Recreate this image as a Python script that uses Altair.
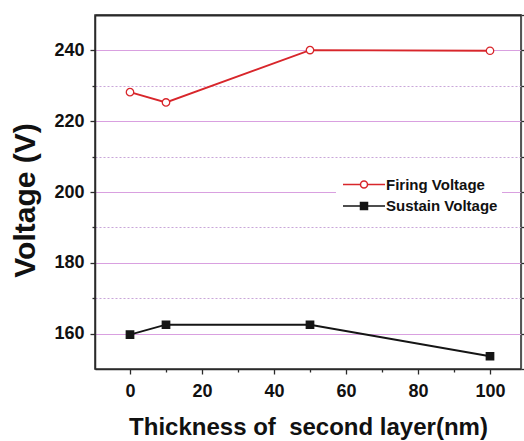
import altair as alt
import pandas as pd

thickness = [0, 10, 50, 100]
firing_voltage = [228.2, 225.3, 240.1, 239.9]
sustain_voltage = [159.7, 162.5, 162.5, 153.6]
series_names = ["Firing Voltage", "Sustain Voltage"]
series_colors = ["#d8262b", "#151515"]
marker_fills = ["white", "#151515"]
marker_shapes = ["circle", "square"]
y_ticks = [160, 170, 180, 190, 200, 210, 220, 230, 240]
y_ticks_right = [150, 160, 170, 180, 190, 200, 210, 220, 230, 240, 250]
x_ticks = [0, 10, 20, 30, 40, 50, 60, 70, 80, 90, 100]
x_domain = [-9.7222, 108.6111]
y_domain = [150, 250]
x_title = "Thickness of\u00a0 second layer(nm)"
y_title = "Voltage (V)"

rows = []
for t, v in zip(thickness, firing_voltage):
    rows.append({"t": t, "v": v, "series": series_names[0]})
for t, v in zip(thickness, sustain_voltage):
    rows.append({"t": t, "v": v, "series": series_names[1]})
df = pd.DataFrame(rows)

FONT = "Liberation Sans"
MAJOR = "datum.value % 20 === 0"
GRID_MAJOR = "#d9a0e0"
GRID_MINOR = "#c9a6d9"
AXIS_COLOR = "#2a2a2a"

x_scale = alt.Scale(domain=x_domain, nice=False, zero=False)
y_scale = alt.Scale(domain=y_domain, nice=False, zero=False)

x_axis = alt.Axis(
    orient="bottom", values=x_ticks, grid=False, title=x_title,
    labelExpr=f"{MAJOR} ? datum.label : ''",
    tickSize={"condition": {"test": MAJOR, "value": 5}, "value": 3},
    tickColor=AXIS_COLOR, tickWidth=1.3, domainColor=AXIS_COLOR, domainWidth=1.5,
    labelFont=FONT, labelFontSize=18, labelFontWeight="bold", labelColor="#111",
    labelPadding=8, titleFont=FONT, titleFontSize=24, titleFontWeight="bold",
    titleColor="#111", titlePadding=15,
)
x_axis_top = alt.Axis(
    orient="top", title=None, labels=False, ticks=False, grid=False,
    domainColor=AXIS_COLOR, domainWidth=2,
)
y_axis = alt.Axis(
    orient="left", values=y_ticks, title=y_title, grid=True,
    labelExpr=f"{MAJOR} ? datum.label : ''",
    tickSize={"condition": {"test": MAJOR, "value": 5}, "value": 3},
    gridColor={"condition": {"test": MAJOR, "value": GRID_MAJOR}, "value": GRID_MINOR},
    gridDash={"condition": {"test": MAJOR, "value": []}, "value": [2, 2]},
    gridWidth=1.2,
    tickColor=AXIS_COLOR, tickWidth=1.3, domainColor=AXIS_COLOR, domainWidth=1.5,
    labelFont=FONT, labelFontSize=18, labelFontWeight="bold", labelColor="#111",
    labelPadding=6, titleFont=FONT, titleFontSize=30, titleFontWeight="bold",
    titleColor="#111", titlePadding=13, titleY=185,
)
y_axis_right = alt.Axis(
    orient="right", values=y_ticks_right, title=None, labels=False, grid=False,
    domain=True, domainColor="#555", domainWidth=1.2,
    tickColor=AXIS_COLOR, tickWidth=1.3,
    tickSize={"condition": {"test": MAJOR, "value": 5}, "value": 3},
)

legend_common = dict(
    orient="none", legendX=241, legendY=158, title=" ", titleOrient="left",
    titleFontSize=10, titlePadding=16.5, symbolSize=49, symbolStrokeWidth=1.5,
    labelFont=FONT, labelFontSize=15, labelFontWeight="bold", labelColor="#111",
    labelOffset=14.5, padding=4, rowPadding=5.5, symbolOpacity=1,
)
legend_lines = alt.Legend(symbolType="M-6,0H-1.1M1.1,0H6", fillColor="white",
                          zindex=0, **legend_common)
legend_marks = alt.Legend(labelOpacity=0, titleOpacity=0, zindex=1, **legend_common)

lines = alt.Chart(df).mark_line(strokeWidth=1.8).encode(
    x=alt.X("t:Q", scale=x_scale, axis=x_axis),
    y=alt.Y("v:Q", scale=y_scale, axis=y_axis),
    color=alt.Color("series:N", scale=alt.Scale(range=series_colors), legend=legend_lines),
    detail="series:N",
)

points = alt.Chart(df).mark_point(size=55, opacity=1, strokeWidth=1.3).encode(
    x=alt.X("t:Q", scale=x_scale, axis=x_axis_top),
    y=alt.Y("v:Q", scale=y_scale, axis=y_axis_right),
    stroke=alt.Stroke("series:N", scale=alt.Scale(domain=series_names, range=series_colors),
                      legend=legend_marks),
    fill=alt.Fill("series:N", scale=alt.Scale(domain=series_names, range=marker_fills),
                  legend=legend_marks),
    shape=alt.Shape("series:N", scale=alt.Scale(domain=series_names, range=marker_shapes),
                    legend=legend_marks),
)

chart = alt.layer(lines, points).resolve_axis(x="independent", y="independent").properties(
    width=426, height=354, autosize="none", background="white",
    padding={"left": 95, "top": 15, "right": 3, "bottom": 72},
).configure_view(
    stroke="#333", strokeWidth=1.6
).configure_axis(
    labelFont=FONT, labelFontWeight="bold", labelFontSize=18, labelColor="#111"
)

chart.save("out.html", embed_options={"renderer": "svg", "actions": False})
